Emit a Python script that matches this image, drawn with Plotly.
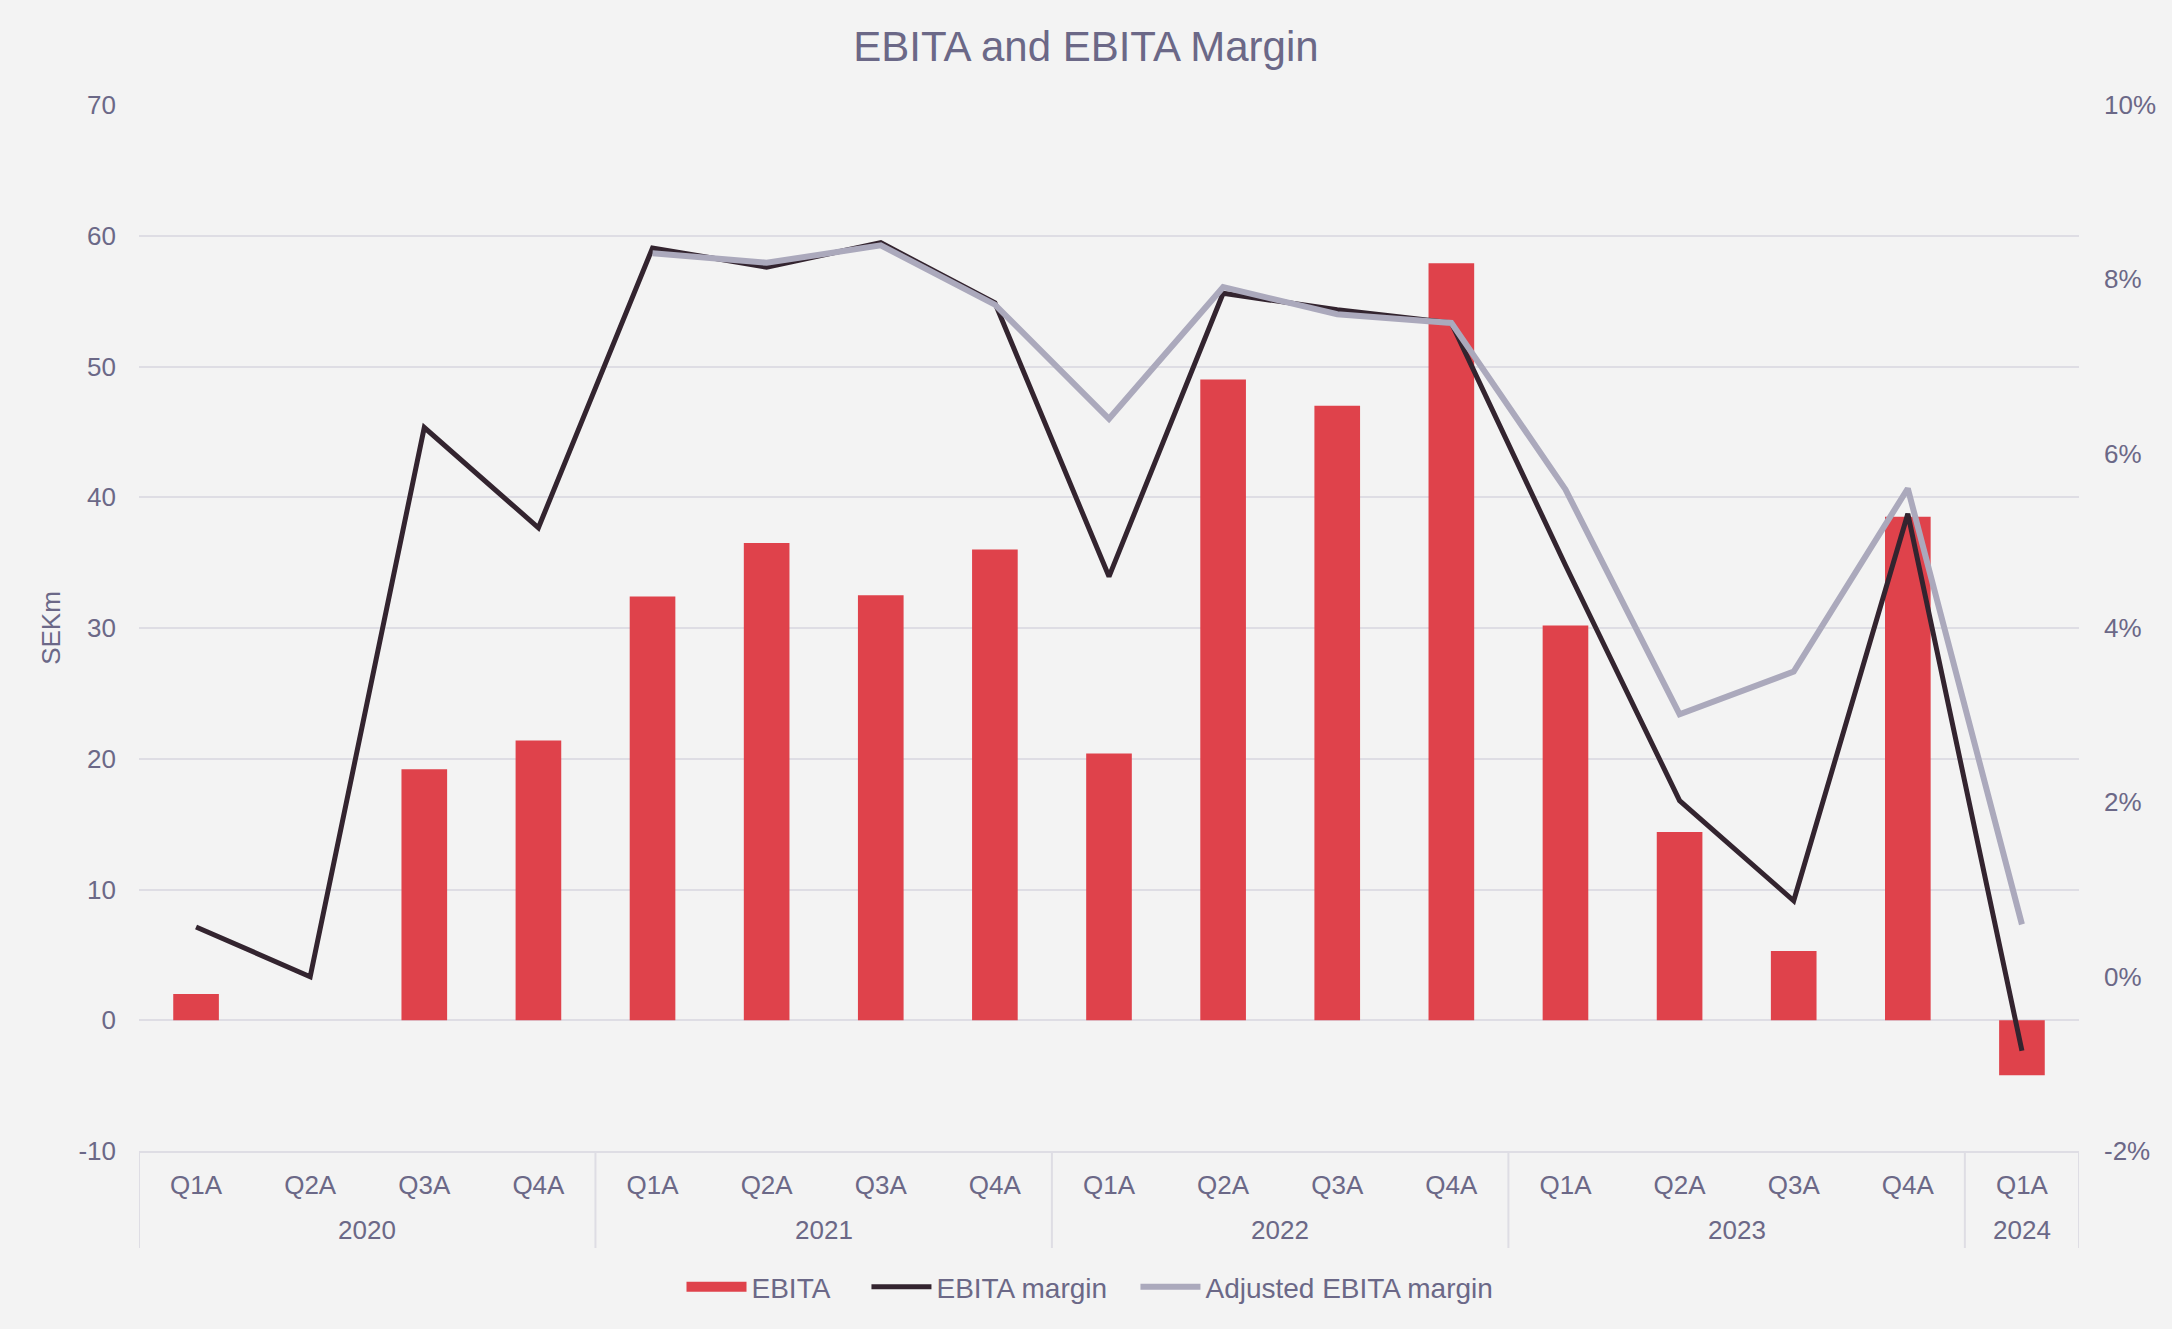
import plotly.graph_objects as go

# ---- data ----
years = ["2020"] * 4 + ["2021"] * 4 + ["2022"] * 4 + ["2023"] * 4 + ["2024"]
quarters = ["Q1A", "Q2A", "Q3A", "Q4A"] * 4 + ["Q1A"]
ebita = [2.0, 0.0, 19.2, 21.4, 32.4, 36.5, 32.5, 36.0, 20.4, 49.0, 47.0, 57.9,
         30.2, 14.4, 5.3, 38.5, -4.2]
ebita_margin = [0.57, 0.0, 6.30, 5.15, 8.36, 8.14, 8.42, 7.73, 4.59, 7.84, 7.65, 7.50,
                4.72, 2.02, 0.87, 5.31, -0.85]
adj_margin = [None, None, None, None, 8.30, 8.19, 8.39, 7.71, 6.40, 7.91, 7.60, 7.50,
              5.59, 3.01, 3.50, 5.60, 0.60]
left_ticks = [-10, 0, 10, 20, 30, 40, 50, 60, 70]
right_ticks = [-2, 0, 2, 4, 6, 8, 10]

# ---- styles ----
BG = "#F3F3F3"
TXT = "#6B6887"
GRID = "#DEDDE4"
RED = "#DF424B"
DARK = "#33242F"
GRAY = "#ABA9BC"
FONT = "Liberation Sans, Arial, sans-serif"
PAD1 = "\u00a0" * 4  # extra spacing after legend entries
PAD2 = "\u00a0" * 3

W, H = 2172, 1329
ML, MR, MT, MB = 139, 93, 105, 178
PH = H - MT - MB
PW = W - ML - MR

idx = list(range(len(quarters)))

fig = go.Figure()
fig.add_trace(go.Bar(x=idx, y=ebita, name="EBITA", marker_color=RED,
                     marker_line_width=0, yaxis="y", showlegend=False))
# legend proxy for the bar series (wide rectangle swatch)
fig.add_trace(go.Scatter(x=[None], y=[None], name="EBITA" + PAD1, mode="lines",
                         line=dict(color=RED, width=10), yaxis="y", hoverinfo="skip"))
fig.add_trace(go.Scatter(x=idx, y=ebita_margin, name="EBITA margin" + PAD2, mode="lines",
                         line=dict(color=DARK, width=5), yaxis="y2"))
fig.add_trace(go.Scatter(x=idx, y=adj_margin, name="Adjusted EBITA margin", mode="lines",
                         line=dict(color=GRAY, width=6), yaxis="y2",
                         connectgaps=False))

# year group labels and dividers derived from the data
groups = []
for i, yr in enumerate(years):
    if not groups or groups[-1][0] != yr:
        groups.append([yr, i, i])
    else:
        groups[-1][2] = i

div_bottom = -(1248 - (H - MB)) / PH
shapes = []
annotations = []
bounds = [g[1] - 0.5 for g in groups] + [groups[-1][2] + 0.5]
for b in bounds:
    shapes.append(dict(type="line", xref="x", yref="paper", x0=b, x1=b,
                       y0=0, y1=div_bottom, line=dict(color=GRID, width=2)))
for yr, a, b in groups:
    annotations.append(dict(text=yr, xref="x", yref="paper", x=(a + b) / 2,
                            y=-(1230 - (H - MB)) / PH, yanchor="middle",
                            xanchor="center", showarrow=False,
                            font=dict(size=26, color=TXT, family=FONT)))

fig.update_layout(
    width=W, height=H,
    paper_bgcolor=BG, plot_bgcolor=BG,
    font=dict(family=FONT, size=26, color=TXT),
    title=dict(text="EBITA and EBITA Margin", x=0.5, xanchor="center",
               y=1 - 46 / H, yanchor="middle",
               font=dict(size=42, color=TXT, family=FONT)),
    margin=dict(l=ML, r=MR, t=MT, b=MB, autoexpand=False),
    bargap=0.6,
    showlegend=True,
    legend=dict(orientation="h", x=(1090 - ML) / PW, xanchor="center",
                y=-(1287 - (H - MB)) / PH, yanchor="middle",
                font=dict(size=28, color=TXT), itemwidth=60,
                bgcolor="rgba(0,0,0,0)", traceorder="normal"),
    xaxis=dict(range=[-0.5, len(idx) - 0.5], tickvals=idx, ticktext=quarters,
               showgrid=False, zeroline=False,
               showline=True, linecolor=GRID, linewidth=2,
               tickfont=dict(size=26, color=TXT), ticks="", ticklabelstandoff=10),
    yaxis=dict(range=[-10, 70], tickvals=left_ticks,
               ticktext=[str(v) for v in left_ticks], showgrid=True,
               gridcolor=GRID, gridwidth=2, zeroline=False,
               tickfont=dict(size=26, color=TXT), ticklabelstandoff=22,
               title=dict(text="SEKm", font=dict(size=26, color=TXT), standoff=10)),
    yaxis2=dict(range=[-2, 10], tickvals=right_ticks,
                ticktext=[f"{v}%" for v in right_ticks],
                overlaying="y", side="right", showgrid=False, zeroline=False,
                tickfont=dict(size=26, color=TXT), ticklabelstandoff=24),
    shapes=shapes,
    annotations=annotations,
)

fig.write_html("out.html", config={"displayModeBar": False},
               post_script="document.body.style.margin='0';document.body.style.overflow='hidden';")
